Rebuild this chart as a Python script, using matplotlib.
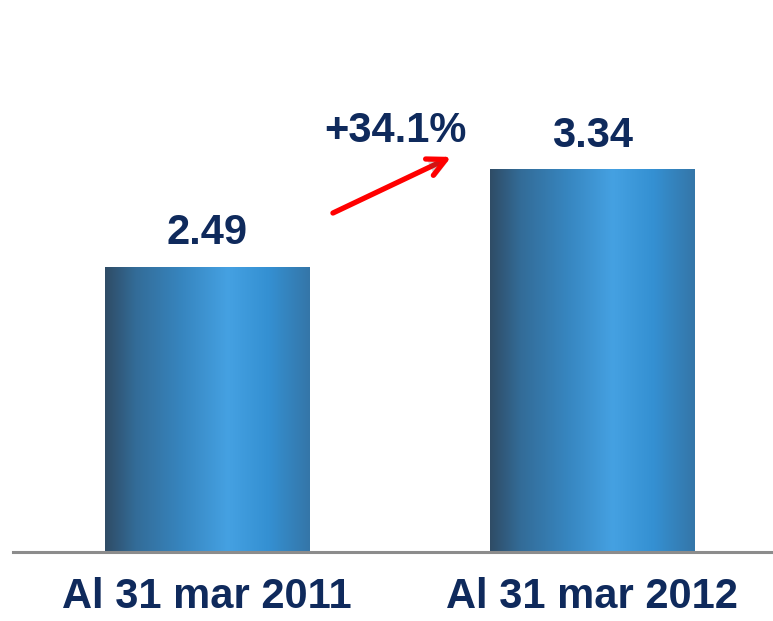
import numpy as np
import matplotlib.pyplot as plt
import matplotlib.patheffects as pe
from matplotlib.colors import LinearSegmentedColormap

# datos
categorias = ["Al 31 mar 2011", "Al 31 mar 2012"]
valores = [2.49, 3.34]
etiquetas = ["2.49", "3.34"]
crecimiento = "+34.1%"

azul_texto = "#0f2a5c"

plt.rcParams['font.family'] = ['Liberation Sans', 'DejaVu Sans']

fig = plt.figure(figsize=(7.73, 6.21), dpi=100)
ax = fig.add_axes([13/773, 69/621, 760/773, 552/621])

# degradado horizontal de las barras
grad = LinearSegmentedColormap.from_list("barra", [
    (0.0, "#2f4c66"),
    (0.15, "#336c98"),
    (0.38, "#3786c0"),
    (0.6, "#45a1e2"),
    (0.8, "#3490d2"),
    (1.0, "#3576a8"),
])

x = np.arange(len(categorias))
ancho = 0.532
barras = ax.bar(x, valores, width=ancho, color="none", edgecolor="none", zorder=2)
fila = np.linspace(0, 1, 256).reshape(1, -1)
for b in barras:
    x0, y0 = b.get_x(), b.get_y()
    im = ax.imshow(fila, cmap=grad, aspect="auto", zorder=2,
                   extent=[x0, x0 + b.get_width(), y0, y0 + b.get_height()])
    im.set_clip_path(b)

ax.set_xlim(-0.504, 1.470)
ax.set_ylim(0, 4.82)

# etiquetas de valores
for xi, v, t in zip(x, valores, etiquetas):
    ax.annotate(t, (xi, v), xytext=(0, 16.5), textcoords="offset points",
                ha="center", va="baseline", fontsize=30, fontweight="bold",
                color=azul_texto)

# flecha de crecimiento
ax.annotate("", xy=(0.634, 3.45), xytext=(0.327, 2.96),
            arrowprops=dict(arrowstyle="->,head_length=1.3,head_width=0.65",
                            color="#ff0000", lw=3.8, shrinkA=0, shrinkB=0,
                            path_effects=[pe.SimplePatchShadow(offset=(1.5, -1.5), alpha=0.25),
                                          pe.Normal()]))
ax.text(0.49, 3.68, crecimiento, ha="center", va="center", fontsize=30,
        fontweight="bold", color=azul_texto)

# ejes
for s in ["top", "right", "left"]:
    ax.spines[s].set_visible(False)
ax.spines["bottom"].set_color("#8c8c8c")
ax.spines["bottom"].set_linewidth(2.2)
ax.spines["bottom"].set_zorder(3)
ax.set_yticks([])
ax.set_xticks(x)
ax.set_xticklabels(categorias, fontsize=30, fontweight="bold", color=azul_texto)
ax.tick_params(axis="x", length=0, pad=18)
ax.patch.set_alpha(0)

fig.savefig("out.png", dpi=100)
